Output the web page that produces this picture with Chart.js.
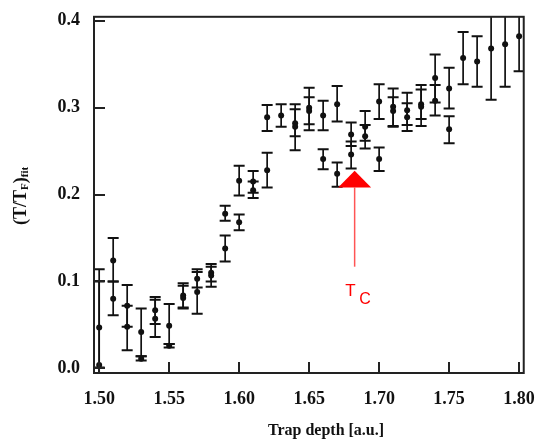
<!DOCTYPE html>
<html>
<head>
<meta charset="utf-8">
<script src="https://cdn.jsdelivr.net/npm/chart.js@4.4.1/dist/chart.umd.min.js"></script>
<style>
  html, body { margin: 0; padding: 0; background: #fff; }
  #wrap { width: 543px; height: 441px; position: relative; }
</style>
</head>
<body>
<div id="wrap"><canvas id="depthChart"></canvas></div>
<script>
// Trap depth scan, two runs per depth where available
const depth = [
  1.50, 1.50, 1.51, 1.51, 1.52, 1.52, 1.53, 1.53, 1.54, 1.54,
  1.55, 1.55, 1.56, 1.56, 1.57, 1.57, 1.58, 1.58, 1.59, 1.59,
  1.60, 1.60, 1.61, 1.61, 1.62, 1.62, 1.63, 1.64, 1.64, 1.65,
  1.65, 1.66, 1.66, 1.67, 1.67, 1.68, 1.68, 1.69, 1.69, 1.70,
  1.70, 1.71, 1.71, 1.72, 1.72, 1.73, 1.73, 1.74, 1.74, 1.75,
  1.75, 1.76, 1.77, 1.78, 1.79, 1.80
];
const ratio = [
  0.047, 0.004, 0.124, 0.080, 0.072, 0.048, 0.042, 0.011, 0.067, 0.057,
  0.049, 0.026, 0.084, 0.081, 0.103, 0.088, 0.110, 0.107, 0.178, 0.138,
  0.216, 0.168, 0.215, 0.205, 0.289, 0.228, 0.291, 0.282, 0.278, 0.300,
  0.296, 0.291, 0.241, 0.304, 0.224, 0.269, 0.246, 0.278, 0.267, 0.307,
  0.241, 0.301, 0.296, 0.297, 0.289, 0.304, 0.301, 0.334, 0.308, 0.322,
  0.275, 0.357, 0.353, 0.368, 0.373, 0.382
];
const errLow = [
  -0.020, 0.001, 0.100, 0.061, 0.048, 0.021, 0.014, 0.009, 0.051, 0.036,
  0.028, 0.024, 0.069, 0.070, 0.093, 0.063, 0.100, 0.094, 0.170, 0.123,
  0.199, 0.159, 0.202, 0.196, 0.273, 0.208, 0.278, 0.267, 0.251, 0.281,
  0.274, 0.274, 0.229, 0.284, 0.209, 0.256, 0.230, 0.262, 0.253, 0.287,
  0.227, 0.279, 0.278, 0.280, 0.273, 0.279, 0.287, 0.306, 0.291, 0.299,
  0.259, 0.327, 0.324, 0.309, 0.324, 0.342
];
const errHigh = [
  0.114, 0.100, 0.150, 0.100, 0.096, 0.072, 0.069, 0.014, 0.082, 0.079,
  0.074, 0.028, 0.098, 0.095, 0.111, 0.114, 0.120, 0.117, 0.187, 0.153,
  0.233, 0.177, 0.227, 0.215, 0.303, 0.248, 0.304, 0.304, 0.298, 0.323,
  0.312, 0.308, 0.252, 0.325, 0.237, 0.283, 0.261, 0.296, 0.280, 0.327,
  0.254, 0.322, 0.312, 0.317, 0.305, 0.326, 0.321, 0.361, 0.326, 0.346,
  0.290, 0.387, 0.382, 0.430, 0.425, 0.425
];

const xTicks = [1.50, 1.55, 1.60, 1.65, 1.70, 1.75, 1.80];
const xTickLabels = ['1.50', '1.55', '1.60', '1.65', '1.70', '1.75', '1.80'];
const yTicks = [0.0, 0.1, 0.2, 0.3, 0.4];
const yTickLabels = ['0.0', '0.1', '0.2', '0.3', '0.4'];

// Tc marker (arrow tip, arrow base, tail end) in data units
const tcDepth = 1.6825;
const tcTip = 0.2275;
const tcBase = 0.208;
const tcTail = 0.117;

const SERIF = '"Liberation Serif", "Times New Roman", serif';
const SANS = '"Liberation Sans", Arial, sans-serif';

const errorBars = {
  id: 'errorBars',
  beforeDatasetsDraw(chart) {
    const { ctx, chartArea, scales: { x, y } } = chart;
    ctx.save();
    ctx.beginPath();
    ctx.rect(chartArea.left, chartArea.top, chartArea.right - chartArea.left, chartArea.bottom - chartArea.top);
    ctx.clip();
    ctx.strokeStyle = '#111';
    depth.forEach((d, i) => {
      const px = x.getPixelForValue(d);
      const lo = y.getPixelForValue(errLow[i]);
      const hi = y.getPixelForValue(errHigh[i]);
      ctx.lineWidth = 1.7;
      ctx.beginPath();
      ctx.moveTo(px, lo);
      ctx.lineTo(px, hi);
      ctx.stroke();
      ctx.lineWidth = 2;
      ctx.beginPath();
      ctx.moveTo(px - 5.5, lo); ctx.lineTo(px + 5.5, lo);
      ctx.moveTo(px - 5.5, hi); ctx.lineTo(px + 5.5, hi);
      ctx.stroke();
    });
    ctx.restore();
  },
  afterDraw(chart) {
    const { ctx, chartArea, scales: { x, y } } = chart;
    ctx.save();

    // frame + inward ticks
    ctx.strokeStyle = '#222';
    ctx.lineWidth = 2;
    ctx.strokeRect(chartArea.left, chartArea.top, chartArea.right - chartArea.left, chartArea.bottom - chartArea.top);
    ctx.beginPath();
    xTicks.forEach(v => {
      const px = Math.round(x.getPixelForValue(v));
      ctx.moveTo(px, chartArea.bottom);
      ctx.lineTo(px, chartArea.bottom - 11);
    });
    yTicks.forEach(v => {
      const py = Math.round(y.getPixelForValue(v));
      ctx.moveTo(chartArea.left, py);
      ctx.lineTo(chartArea.left + 11, py);
    });
    ctx.stroke();

    // Tc arrow
    const ax = x.getPixelForValue(tcDepth);
    const tipY = y.getPixelForValue(tcTip);
    const baseY = y.getPixelForValue(tcBase);
    const tailY = y.getPixelForValue(tcTail);
    ctx.strokeStyle = '#ff5555';
    ctx.lineWidth = 1.5;
    ctx.beginPath();
    ctx.moveTo(ax, baseY);
    ctx.lineTo(ax, tailY);
    ctx.stroke();
    ctx.fillStyle = '#ff0000';
    ctx.beginPath();
    ctx.moveTo(ax, tipY);
    ctx.lineTo(ax - 16.5, baseY);
    ctx.lineTo(ax + 16.5, baseY);
    ctx.closePath();
    ctx.fill();

    ctx.textAlign = 'left';
    ctx.textBaseline = 'alphabetic';
    ctx.font = '17px ' + SANS;
    ctx.fillText('T', ax - 9.5, tailY + 29);
    ctx.font = '16px ' + SANS;
    ctx.fillText('C', ax + 4.5, tailY + 37);

    // x title
    ctx.fillStyle = '#111';
    ctx.font = 'bold 16px ' + SERIF;
    ctx.textAlign = 'center';
    ctx.fillText('Trap depth [a.u.]', 326, 435);

    // y title (T/T_F)_fit, rotated
    ctx.translate(26, 225);
    ctx.rotate(-Math.PI / 2);
    ctx.textAlign = 'left';
    let cx = 0;
    const part = (txt, size, dy) => {
      ctx.font = 'bold ' + size + 'px ' + SERIF;
      ctx.fillText(txt, cx, dy);
      cx += ctx.measureText(txt).width;
    };
    part('(T/T', 18, 0);
    part('F', 11, 2);
    part(')', 18, 0);
    part('fit', 11, 2);

    ctx.restore();
  }
};

new Chart(document.getElementById('depthChart'), {
  type: 'scatter',
  data: {
    datasets: [{
      data: depth.map((d, i) => ({ x: d, y: ratio[i] })),
      backgroundColor: '#111',
      borderColor: '#111',
      pointRadius: 3,
      pointBorderWidth: 0
    }]
  },
  options: {
    responsive: true,
    maintainAspectRatio: false,
    animation: false,
    events: [],
    layout: { padding: { left: 0, right: 13, top: 11, bottom: 0 } },
    plugins: {
      legend: { display: false },
      tooltip: { enabled: false }
    },
    scales: {
      x: {
        type: 'linear',
        min: 1.4963,
        max: 1.8033,
        grid: { display: false },
        border: { display: false },
        afterFit(scale) { scale.height = 68; },
        afterBuildTicks(scale) { scale.ticks = xTicks.map(v => ({ value: v })); },
        ticks: {
          padding: 8,
          color: '#111',
          font: { family: SERIF, size: 18, weight: 'bold' },
          callback: (v, i) => xTickLabels[i]
        }
      },
      y: {
        min: -0.0053,
        max: 0.4045,
        grid: { display: false },
        border: { display: false },
        afterFit(scale) { scale.width = 94; },
        afterBuildTicks(scale) { scale.ticks = yTicks.map(v => ({ value: v })); },
        ticks: {
          padding: 6,
          color: '#111',
          font: { family: SERIF, size: 18, weight: 'bold' },
          callback: (v, i) => yTickLabels[i]
        }
      }
    }
  },
  plugins: [errorBars]
});
</script>
</body>
</html>
